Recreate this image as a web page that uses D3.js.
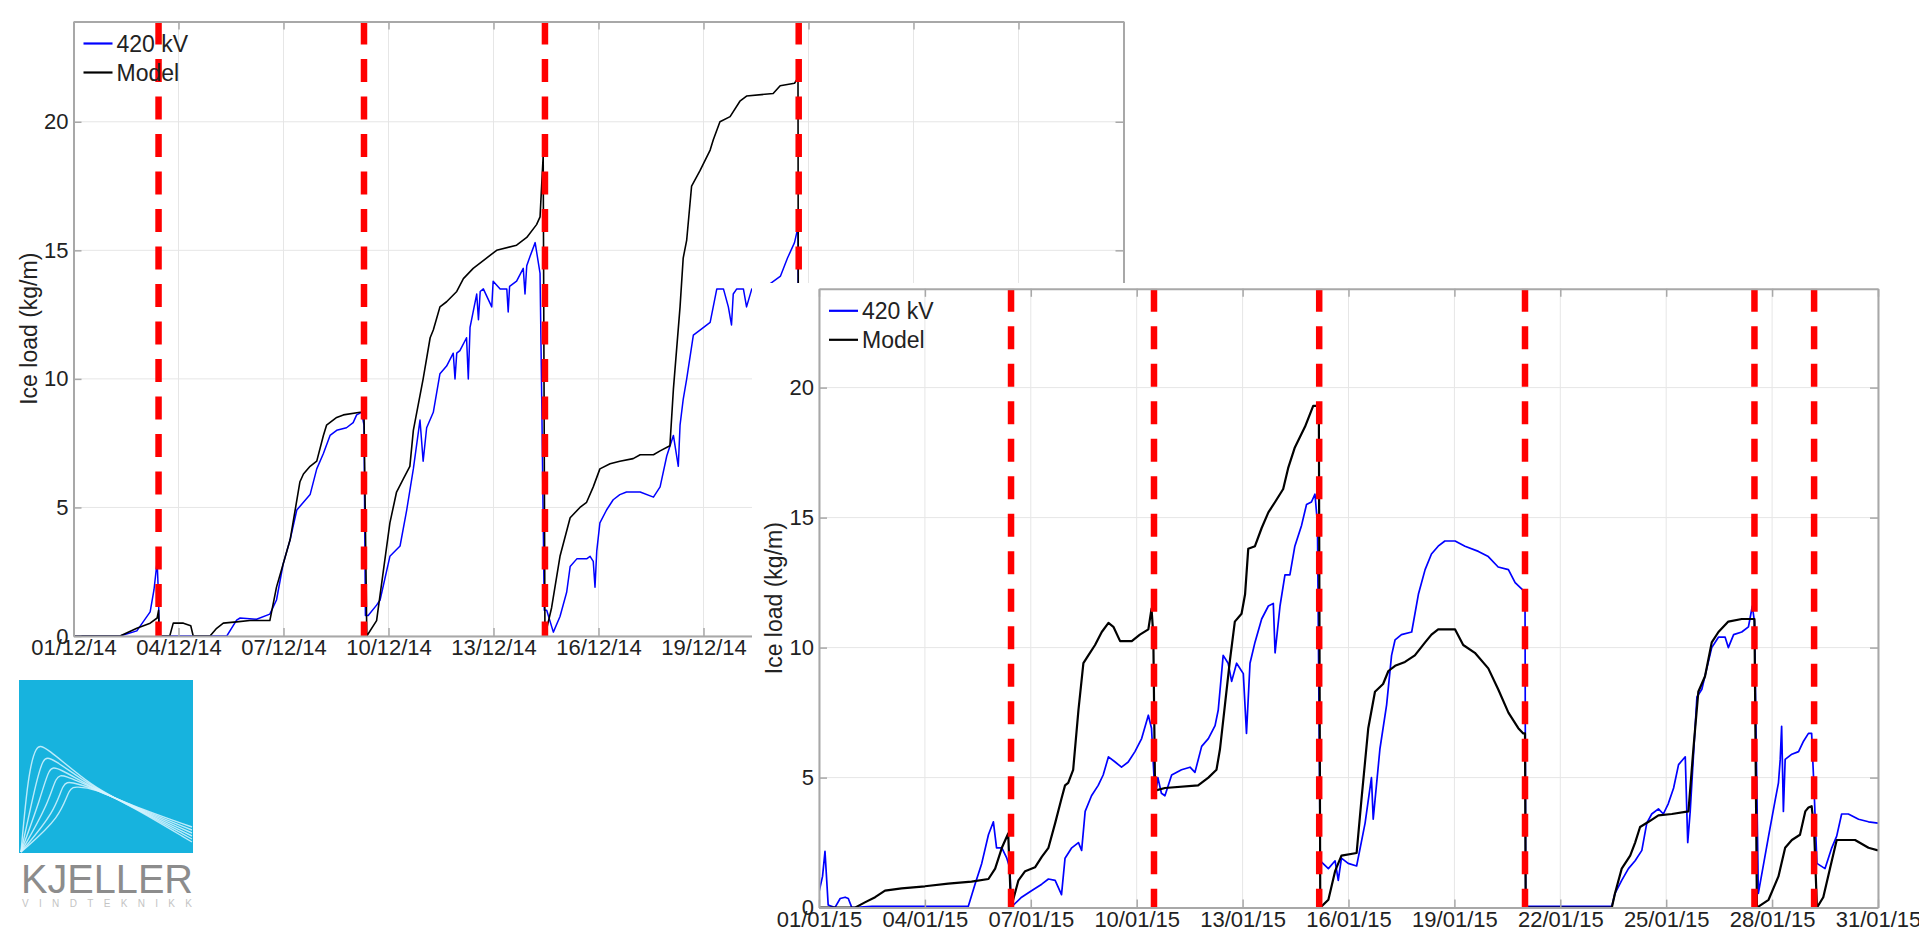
<!DOCTYPE html>
<html>
<head>
<meta charset="utf-8">
<script src="https://cdn.jsdelivr.net/npm/d3@7"></script>
<style>
  html, body { margin: 0; padding: 0; background: #fff; }
  svg { display: block; font-family: "Liberation Sans", Arial, sans-serif; }
</style>
</head>
<body>
<svg id="chart" width="1919" height="941"></svg>
<script>
// ---- data: [day offset from start of month, ice load kg/m] ----
const decTicks = ["01/12/14", "04/12/14", "07/12/14", "10/12/14", "13/12/14", "16/12/14", "19/12/14", "22/12/14", "25/12/14", "28/12/14", "31/12/14"];
const janTicks = ["01/01/15", "04/01/15", "07/01/15", "10/01/15", "13/01/15", "16/01/15", "19/01/15", "22/01/15", "25/01/15", "28/01/15", "31/01/15"];
const yTicks = [0, 5, 10, 15, 20];

const decEvents = [2.43, 8.3, 13.47, 20.72];
const janEvents = [5.44, 9.49, 14.17, 20.0, 26.5, 28.19];

const decMeasured = [
  [0,0],[1.33,0],[1.81,0.2],[2.19,0.94],[2.3,1.8],[2.39,2.9],[2.43,1.5],[2.45,0],[4.38,0],[4.66,0.62],[4.76,0.7],
  [5.23,0.65],[5.61,0.85],[5.8,1.4],[5.99,2.8],[6.19,3.75],[6.38,4.9],[6.57,5.2],[6.76,5.5],[6.95,6.5],[7.14,7.1],
  [7.33,7.8],[7.52,8.0],[7.8,8.1],[7.99,8.3],[8.09,8.6],[8.23,8.7],[8.3,8.2],[8.34,0.8],[8.42,0.8],[8.66,1.2],
  [8.76,1.4],[9.04,3.1],[9.33,3.5],[9.52,4.9],[9.71,6.5],[9.9,8.4],[9.99,6.8],[10.09,8.1],[10.28,8.7],[10.47,10.2],
  [10.66,10.5],[10.85,11.0],[10.9,10.0],[10.95,11.0],[11.04,11.1],[11.23,11.6],[11.28,10.0],[11.33,12.0],[11.52,13.3],
  [11.57,12.3],[11.62,13.4],[11.71,13.5],[11.95,12.8],[11.99,13.8],[12.19,13.5],[12.38,13.5],[12.42,12.6],[12.46,13.6],
  [12.66,13.8],[12.85,14.3],[12.9,13.3],[12.95,14.4],[13.04,14.75],[13.19,15.3],[13.33,14.1],[13.38,9.0],[13.45,1.0],
  [13.52,1.0],[13.71,0.15],[13.9,0.76],[14.09,1.7],[14.19,2.7],[14.38,3.0],[14.66,3.0],[14.76,3.1],[14.85,2.9],
  [14.9,1.9],[14.95,3.3],[15.04,4.4],[15.23,4.9],[15.42,5.3],[15.61,5.5],[15.8,5.6],[16.19,5.6],[16.57,5.4],[16.76,5.8],
  [16.95,7.0],[17.14,7.8],[17.28,6.6],[17.33,8.2],[17.42,9.2],[17.52,10.0],[17.71,11.7],[17.9,11.9],[18.19,12.2],
  [18.38,13.5],[18.57,13.5],[18.71,12.8],[18.8,12.1],[18.85,13.3],[18.95,13.5],[19.14,13.5],[19.23,12.8],[19.38,13.5],
  [19.8,13.6],[20.2,14.0],[20.4,14.7],[20.6,15.3],[20.7,15.9],[20.72,0]
];
const decModel = [
  [0,0],[1.33,0],[1.81,0.3],[2.19,0.5],[2.39,0.7],[2.43,1.0],[2.45,0],[2.75,0],[2.85,0.5],[3.14,0.5],[3.35,0.4],
  [3.42,0],[3.9,0],[4.09,0.3],[4.28,0.5],[4.66,0.55],[5.04,0.6],[5.61,0.6],[5.8,1.9],[5.99,2.8],[6.19,3.75],[6.47,6.0],
  [6.57,6.3],[6.76,6.6],[6.95,6.8],[7.14,7.8],[7.23,8.2],[7.52,8.5],[7.71,8.6],[8.19,8.7],[8.3,8.7],[8.38,0],[8.66,0.6],
  [8.85,2.5],[9.04,4.4],[9.23,5.6],[9.42,6.1],[9.61,6.6],[9.71,8.0],[9.99,10.0],[10.19,11.6],[10.28,11.9],[10.47,12.8],
  [10.66,13.0],[10.95,13.4],[11.14,13.9],[11.42,14.3],[11.8,14.7],[12.09,15.0],[12.66,15.2],[12.95,15.5],[13.23,16.0],
  [13.33,16.3],[13.42,18.7],[13.47,0],[13.66,1.1],[13.9,3.1],[14.19,4.6],[14.47,5.0],[14.66,5.2],[14.85,5.8],[15.04,6.5],
  [15.33,6.7],[15.61,6.8],[15.99,6.9],[16.19,7.05],[16.57,7.05],[16.76,7.2],[17.04,7.4],[17.14,9.6],[17.33,12.8],
  [17.42,14.7],[17.52,15.4],[17.66,17.5],[17.9,18.1],[18.19,18.9],[18.28,19.3],[18.47,20.0],[18.76,20.2],[19.04,20.8],
  [19.23,21.0],[19.99,21.1],[20.19,21.4],[20.6,21.5],[20.7,21.7],[20.72,0]
];

const janMeasured = [
  [0,0.6],[0.1,1.2],[0.17,2.16],[0.26,0.1],[0.45,0],[0.6,0.35],[0.74,0.4],[0.83,0.35],[0.93,0],[1.5,0.05],[2.5,0.05],
  [3.5,0.05],[4.23,0.05],[4.42,0.9],[4.61,1.7],[4.8,2.8],[4.94,3.3],[5.03,2.3],[5.18,2.3],[5.32,1.9],[5.41,1.5],[5.44,0],
  [5.51,0.1],[5.74,0.4],[6.02,0.65],[6.31,0.9],[6.5,1.1],[6.69,1.05],[6.87,0.5],[6.97,1.9],[7.16,2.3],[7.35,2.5],
  [7.44,2.2],[7.54,3.7],[7.72,4.3],[7.91,4.7],[8.05,5.1],[8.2,5.8],[8.39,5.6],[8.57,5.4],[8.76,5.6],[8.95,6.0],
  [9.14,6.5],[9.33,7.4],[9.42,6.9],[9.52,4.2],[9.6,5.0],[9.7,4.4],[9.8,4.3],[9.99,5.1],[10.27,5.3],[10.51,5.4],
  [10.65,5.2],[10.84,6.2],[11.03,6.5],[11.22,7.0],[11.31,7.6],[11.45,9.7],[11.59,9.4],[11.69,8.7],[11.83,9.4],[12.02,9.0],
  [12.11,6.7],[12.21,9.4],[12.35,10.2],[12.54,11.1],[12.73,11.6],[12.87,11.7],[12.92,9.8],[13.06,11.6],[13.2,12.8],
  [13.34,12.8],[13.48,13.9],[13.67,14.7],[13.81,15.5],[13.95,15.6],[14.05,15.9],[14.12,14.8],[14.2,1.8],[14.43,1.5],
  [14.62,1.8],[14.71,1.05],[14.8,1.9],[14.99,1.7],[15.23,1.6],[15.47,3.25],[15.65,5.0],[15.7,3.4],[15.89,6.1],[16.08,7.8],
  [16.22,9.7],[16.32,10.3],[16.5,10.5],[16.79,10.6],[16.98,12.05],[17.17,13.0],[17.35,13.6],[17.54,13.9],[17.73,14.1],
  [18.02,14.1],[18.3,13.9],[18.68,13.7],[18.96,13.5],[19.24,13.1],[19.53,13.0],[19.72,12.5],[19.95,12.2],[20.0,12.2],
  [20.02,0.05],[22.46,0.05],[22.55,0.55],[22.74,1.05],[22.93,1.5],[23.12,1.8],[23.31,2.2],[23.45,3.25],[23.59,3.6],
  [23.78,3.8],[23.92,3.6],[24.06,4.0],[24.21,4.6],[24.35,5.5],[24.54,5.8],[24.61,2.5],[24.68,3.7],[24.87,8.1],[25.01,8.4],
  [25.15,9.2],[25.29,10.0],[25.48,10.4],[25.67,10.4],[25.76,10.0],[25.91,10.5],[26.14,10.6],[26.33,10.8],[26.44,11.6],
  [26.5,11.0],[26.61,0.55],[26.9,2.75],[27.09,4.15],[27.18,4.8],[27.23,5.7],[27.27,6.97],[27.32,3.7],[27.37,5.7],
  [27.56,5.9],[27.75,6.0],[27.89,6.4],[28.03,6.7],[28.12,6.7],[28.19,4.5],[28.27,1.7],[28.5,1.5],[28.69,2.3],[28.83,2.75],
  [28.97,3.6],[29.16,3.6],[29.45,3.4],[29.73,3.3],[30.0,3.25]
];
const janModel = [
  [0,0],[1.02,0],[1.3,0.2],[1.59,0.4],[1.87,0.65],[2.34,0.74],[3.0,0.82],[3.66,0.92],[4.32,1.0],[4.8,1.1],[4.99,1.5],
  [5.18,2.3],[5.36,2.85],[5.44,0],[5.46,0.1],[5.65,1.05],[5.84,1.4],[6.12,1.55],[6.31,1.95],[6.5,2.3],[6.69,3.25],
  [6.87,4.2],[6.97,4.7],[7.06,4.8],[7.2,5.3],[7.35,7.6],[7.49,9.4],[7.63,9.7],[7.82,10.1],[8.01,10.6],[8.2,10.95],
  [8.34,10.8],[8.53,10.25],[8.86,10.25],[9.09,10.5],[9.33,10.7],[9.42,11.5],[9.47,10.5],[9.52,4.5],[9.8,4.6],[10.74,4.7],
  [11.03,5.0],[11.26,5.3],[11.36,6.1],[11.5,7.8],[11.64,9.5],[11.78,11.0],[11.97,11.3],[12.07,12.05],[12.16,13.8],
  [12.35,13.9],[12.54,14.6],[12.73,15.2],[12.92,15.6],[13.15,16.1],[13.29,16.9],[13.48,17.7],[13.77,18.5],[14.0,19.3],
  [14.1,19.3],[14.16,19.3],[14.2,0],[14.43,0.3],[14.62,1.4],[14.8,2.0],[15.23,2.1],[15.37,4.2],[15.56,6.9],[15.75,8.3],
  [15.98,8.6],[16.13,9.1],[16.32,9.3],[16.6,9.45],[16.88,9.7],[17.17,10.2],[17.35,10.5],[17.54,10.7],[18.02,10.7],
  [18.25,10.1],[18.58,9.8],[18.96,9.2],[19.24,8.4],[19.53,7.5],[19.81,6.9],[19.95,6.7],[20.0,6.7],[20.02,0],[22.46,0],
  [22.55,0.55],[22.74,1.5],[22.98,2.0],[23.12,2.5],[23.26,3.1],[23.5,3.3],[23.78,3.55],[24.16,3.6],[24.63,3.7],
  [24.77,6.1],[24.91,8.3],[25.1,8.9],[25.29,10.2],[25.48,10.6],[25.76,11.0],[26.14,11.1],[26.5,11.1],[26.57,0],
  [26.9,0.3],[27.18,1.2],[27.37,2.3],[27.56,2.6],[27.79,2.8],[27.94,3.7],[28.03,3.85],[28.12,3.9],[28.19,3.0],[28.27,0],
  [28.45,0.4],[28.64,1.5],[28.83,2.6],[29.07,2.6],[29.35,2.6],[29.73,2.3],[30.0,2.2]
];

const seriesNames = ["420 kV", "Model"];
const seriesColors = ["#0000ff", "#000000"];

const svg = d3.select("#chart");
const parseTick = d3.utcParse("%d/%m/%y");
const fmtTick = d3.utcFormat("%d/%m/%y");

function drawChart(cfg) {
  const { left, top, right, bottom, ymax, start, end, ticks, measured, model, events, id, lw } = cfg;
  const startMs = start.getTime();
  const toDate = d => new Date(startMs + d * 864e5);

  const x = d3.scaleUtc().domain([start, end]).range([left, right]);
  const y = d3.scaleLinear().domain([0, ymax]).range([bottom, top]);

  const g = svg.append("g");

  g.append("clipPath").attr("id", id)
    .append("rect").attr("x", left).attr("y", top).attr("width", right - left).attr("height", bottom - top);

  // grid
  const tickDates = ticks.map(parseTick);
  g.append("g").selectAll("line").data(tickDates).join("line")
    .attr("x1", d => x(d)).attr("x2", d => x(d)).attr("y1", top).attr("y2", bottom)
    .attr("stroke", "#e6e6e6").attr("stroke-width", 1);
  g.append("g").selectAll("line").data(yTicks).join("line")
    .attr("x1", left).attr("x2", right).attr("y1", d => y(d)).attr("y2", d => y(d))
    .attr("stroke", "#e6e6e6").attr("stroke-width", 1);

  // series
  const line = d3.line().x(d => x(toDate(d[0]))).y(d => y(d[1]));
  const plot = g.append("g").attr("clip-path", `url(#${id})`);
  plot.append("path").datum(measured).attr("d", line)
    .attr("fill", "none").attr("stroke", seriesColors[0]).attr("stroke-width", lw[0]).attr("stroke-linejoin", "round");
  plot.append("path").datum(model).attr("d", line)
    .attr("fill", "none").attr("stroke", seriesColors[1]).attr("stroke-width", lw[1]).attr("stroke-linejoin", "round");

  // event markers
  plot.selectAll("line.ev").data(events).join("line")
    .attr("class", "ev")
    .attr("x1", d => x(toDate(d))).attr("x2", d => x(toDate(d)))
    .attr("y1", top).attr("y2", bottom)
    .attr("stroke", "#ff0000").attr("stroke-width", 6.5).attr("stroke-dasharray", "23,14.5");

  // axes (MATLAB style, ticks inside, box)
  const styleAxis = sel => {
    sel.select(".domain").attr("stroke", "#a8a8a8").attr("stroke-width", 2);
    sel.selectAll(".tick line").attr("stroke", "#a8a8a8").attr("stroke-width", 1.5);
    sel.selectAll("text").attr("fill", "#222").style("font-size", "22px")
      .style("font-family", "'Liberation Sans', Arial, sans-serif");
  };
  g.append("g").attr("transform", `translate(0,${bottom})`)
    .call(d3.axisBottom(x).tickValues(tickDates).tickFormat(fmtTick).tickSize(-8).tickSizeOuter(0).tickPadding(3.5))
    .call(styleAxis);
  g.append("g").attr("transform", `translate(0,${top})`)
    .call(d3.axisTop(x).tickValues(tickDates).tickFormat("").tickSize(-8).tickSizeOuter(0))
    .call(styleAxis);
  g.append("g").attr("transform", `translate(${left},0)`)
    .call(d3.axisLeft(y).tickValues(yTicks).tickSize(-8).tickSizeOuter(0).tickPadding(5))
    .call(styleAxis);
  g.append("g").attr("transform", `translate(${right},0)`)
    .call(d3.axisRight(y).tickValues(yTicks).tickFormat("").tickSize(-8).tickSizeOuter(0))
    .call(styleAxis);

  // y label
  g.append("text")
    .attr("transform", `translate(${left - 37},${(top + bottom) / 2}) rotate(-90)`)
    .attr("text-anchor", "middle")
    .attr("fill", "#222")
    .style("font-size", "23px")
    .text("Ice load (kg/m)");

  // legend
  const lg = g.append("g").attr("transform", `translate(${left},${top})`);
  seriesNames.forEach((name, i) => {
    const ly = 22 + i * 29;
    lg.append("line").attr("x1", 10).attr("x2", 39).attr("y1", ly).attr("y2", ly)
      .attr("stroke", seriesColors[i]).attr("stroke-width", 2.2);
    lg.append("text").attr("x", 43).attr("y", ly).attr("dy", "0.36em")
      .attr("fill", "#222").style("font-size", "23px").text(name);
  });
}

// first chart (December), sits behind
drawChart({
  id: "clipDec", left: 73.5, right: 1123.5, top: 21.5, bottom: 636, ymax: 23.9, lw: [1.5, 1.6],
  start: new Date(Date.UTC(2014, 11, 1)), end: new Date(Date.UTC(2014, 11, 31)),
  ticks: decTicks, measured: decMeasured, model: decModel, events: decEvents
});

// logo
const logo = svg.append("g");
logo.append("rect").attr("x", 19).attr("y", 680).attr("width", 174).attr("height", 173).attr("fill", "#17b3de");
const logoCurve = d3.line().curve(d3.curveBasis);
const peaks = [[40, 745], [47, 757], [53, 767], [60, 775], [67, 782], [73, 787]];
peaks.forEach((p, i) => {
  const endY = 842 - i * 3;
  const pts = [[21, 852], [p[0] - 12, p[1] + 30], [p[0] - 4, p[1]], [p[0] + 4, p[1]], [93, 788], [130, 805], [192, endY]];
  logo.append("path").attr("d", logoCurve(pts)).attr("fill", "none")
    .attr("stroke", "#d8f4ff").attr("stroke-width", 1.4).attr("opacity", 0.85);
});
logo.append("text").attr("x", 21).attr("y", 893).attr("textLength", 172).attr("lengthAdjust", "spacingAndGlyphs")
  .attr("fill", "#8c8c8c").style("font-size", "40px").style("font-weight", "300").text("KJELLER");
logo.append("text").attr("x", 22).attr("y", 907).attr("textLength", 170).attr("lengthAdjust", "spacing")
  .attr("fill", "#c4c4c4").style("font-size", "10px").text("VINDTEKNIKK");

// second chart (January), drawn on top of a white panel
svg.append("rect").attr("x", 752).attr("y", 283).attr("width", 1919 - 752).attr("height", 941 - 283).attr("fill", "#fff");
drawChart({
  id: "clipJan", left: 819, right: 1878, top: 288.8, bottom: 907.6, ymax: 23.8, lw: [1.7, 2.2],
  start: new Date(Date.UTC(2015, 0, 1)), end: new Date(Date.UTC(2015, 0, 31)),
  ticks: janTicks, measured: janMeasured, model: janModel, events: janEvents
});
</script>
</body>
</html>
